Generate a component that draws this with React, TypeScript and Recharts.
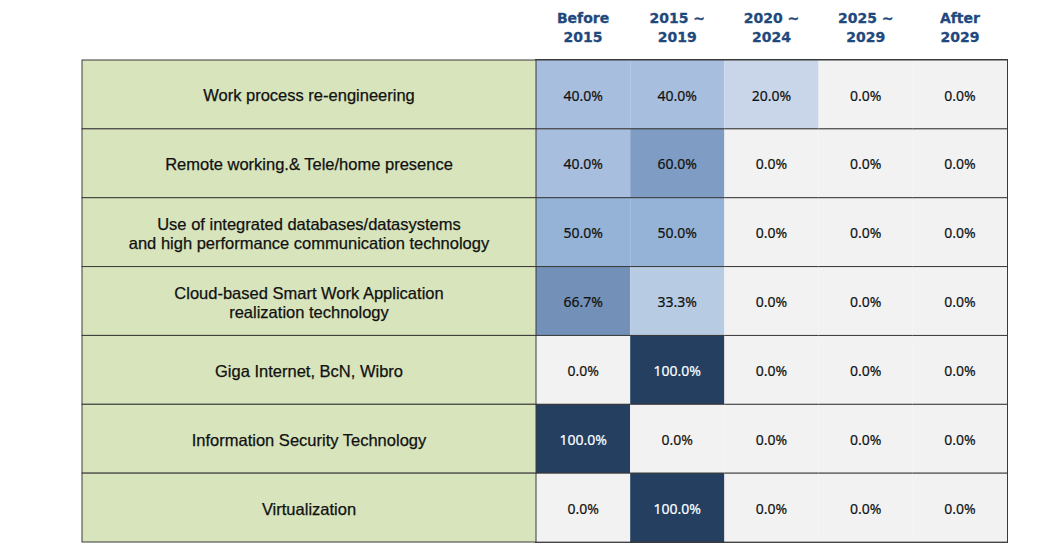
import { BarChart, Bar, XAxis, YAxis, ReferenceArea, LabelList } from 'recharts'

// Row labels (technologies) and column headers (periods)
const technologies = [
  'Work process re-engineering',
  'Remote working.& Tele/home presence',
  'Use of integrated databases/datasystems\nand high performance communication technology',
  'Cloud-based Smart Work Application\nrealization technology',
  'Giga Internet, BcN, Wibro',
  'Information Security Technology',
  'Virtualization',
]
const periods = ['Before\n2015', '2015 ~\n2019', '2020 ~\n2024', '2025 ~\n2029', 'After\n2029']

// Share of responses per period (%)
const before2015 = [40, 40, 50, 66.7, 0, 100, 0]
const y2015to2019 = [40, 60, 50, 33.3, 100, 0, 100]
const y2020to2024 = [20, 0, 0, 0, 0, 0, 0]
const y2025to2029 = [0, 0, 0, 0, 0, 0, 0]
const after2029 = [0, 0, 0, 0, 0, 0, 0]

const series = [before2015, y2015to2019, y2020to2024, y2025to2029, after2029]

// ── layout ──────────────────────────────────────────────────────────────────
const W = 1064
const H = 551
const TOP = 60
const BOTTOM = 9
const LEFT = 82
const LABEL_W = 454
const RIGHT = 57
const ROW_H = (H - TOP - BOTTOM) / technologies.length

// colour stops
const STOPS: [number, string][] = [
  [0, '#f2f2f2'],
  [20, '#c9d6ea'],
  [33.3, '#b7cbe3'],
  [40, '#a8bedf'],
  [50, '#95b3d7'],
  [60, '#7f9cc4'],
  [66.7, '#7390b8'],
  [100, '#243f60'],
]
function cellColor(v: number) {
  const hit = STOPS.find(([s]) => Math.abs(s - v) < 0.01)
  if (hit) return hit[1]
  let best = STOPS[0]
  for (const s of STOPS) if (s[0] <= v) best = s
  return best[1]
}

const data = technologies.map((name, r) => {
  const row: Record<string, number | string> = { name }
  series.forEach((s, c) => {
    row[`p${c}`] = s[r]
    row[`w${c}`] = 1
  })
  return row
})

const LINE = '#3a3a3a'

function RowLabel({ y, payload }: any) {
  const lines = String(payload.value).split('\n')
  const top = y - ROW_H / 2
  const cx = LEFT + LABEL_W / 2
  const lh = 19
  const start = y - ((lines.length - 1) * lh) / 2
  return (
    <g>
      <rect x={LEFT} y={top} width={LABEL_W} height={ROW_H} fill="#d8e4bc" stroke={LINE} strokeWidth={1} />
      {lines.map((l, i) => (
        <text
          key={i}
          x={cx}
          y={start + i * lh}
          dy={7}
          textAnchor="middle"
          fill="#111"
          stroke="#111"
          strokeWidth={0.25}
          fontSize={16.5}
          fontFamily="Liberation Sans, Arial, sans-serif"
        >
          {l}
        </text>
      ))}
    </g>
  )
}

function PeriodTick({ x, payload }: any) {
  const idx = Math.floor(payload.value)
  const lines = periods[idx].split('\n')
  return (
    <g>
      {lines.map((l, i) => (
        <text
          key={i}
          x={x}
          y={23 + i * 19}
          textAnchor="middle"
          fill="#1f497d"
          stroke="#1f497d"
          strokeWidth={0.3}
          fontSize={14}
          fontWeight="bold"
          fontFamily="DejaVu Sans, sans-serif"
        >
          {l}
        </text>
      ))}
    </g>
  )
}

function makeCell(c: number) {
  return (props: any) => {
    const { x, y, width, height, payload } = props
    const v = payload[`p${c}`] as number
    return (
      <g>
        <rect x={x} y={y} width={width} height={height} fill={cellColor(v)} />
        <line x1={x} x2={x + width} y1={y} y2={y} stroke={LINE} strokeWidth={1} />
        <line x1={x} x2={x + width} y1={y + height} y2={y + height} stroke={LINE} strokeWidth={1} />
      </g>
    )
  }
}

function makeValueLabel() {
  return (props: any) => {
    const { x, y, width, height, value } = props
    const v = Number(value)
    return (
      <text
        x={x + width / 2}
        y={y + height / 2}
        dy={6}
        textAnchor="middle"
        fill={v >= 90 ? '#ffffff' : '#111'}
        stroke={v >= 90 ? '#ffffff' : '#111'}
        strokeWidth={0.2}
        fontSize={14}
        fontFamily="Noto Sans, sans-serif"
      >
        {`${v.toFixed(1)}%`}
      </text>
    )
  }
}

export default function App() {
  return (
    <div style={{ position: 'absolute', left: 0, top: 0, width: W, height: H, background: '#fff' }}>
      <BarChart
        width={W}
        height={H}
        data={data}
        layout="vertical"
        barCategoryGap={0}
        margin={{ top: 0, right: RIGHT, left: LEFT, bottom: BOTTOM }}
      >
        <XAxis
          type="number"
          orientation="top"
          domain={[0, periods.length]}
          ticks={periods.map((_, i) => i + 0.5)}
          height={TOP}
          axisLine={false}
          tickLine={false}
          tick={<PeriodTick />}
          interval={0}
        />
        <YAxis
          type="category"
          dataKey="name"
          width={LABEL_W}
          axisLine={false}
          tickLine={false}
          tick={<RowLabel />}
          interval={0}
        />
        {periods.map((_, c) => (
          <Bar key={c} dataKey={`w${c}`} stackId="a" isAnimationActive={false} shape={makeCell(c)}>
            <LabelList dataKey={`p${c}`} content={makeValueLabel()} />
          </Bar>
        ))}
        <ReferenceArea
          x1={0}
          x2={periods.length}
          fill="none"
          stroke={LINE}
          strokeWidth={2}
          ifOverflow="visible"
        />
      </BarChart>
    </div>
  )
}
